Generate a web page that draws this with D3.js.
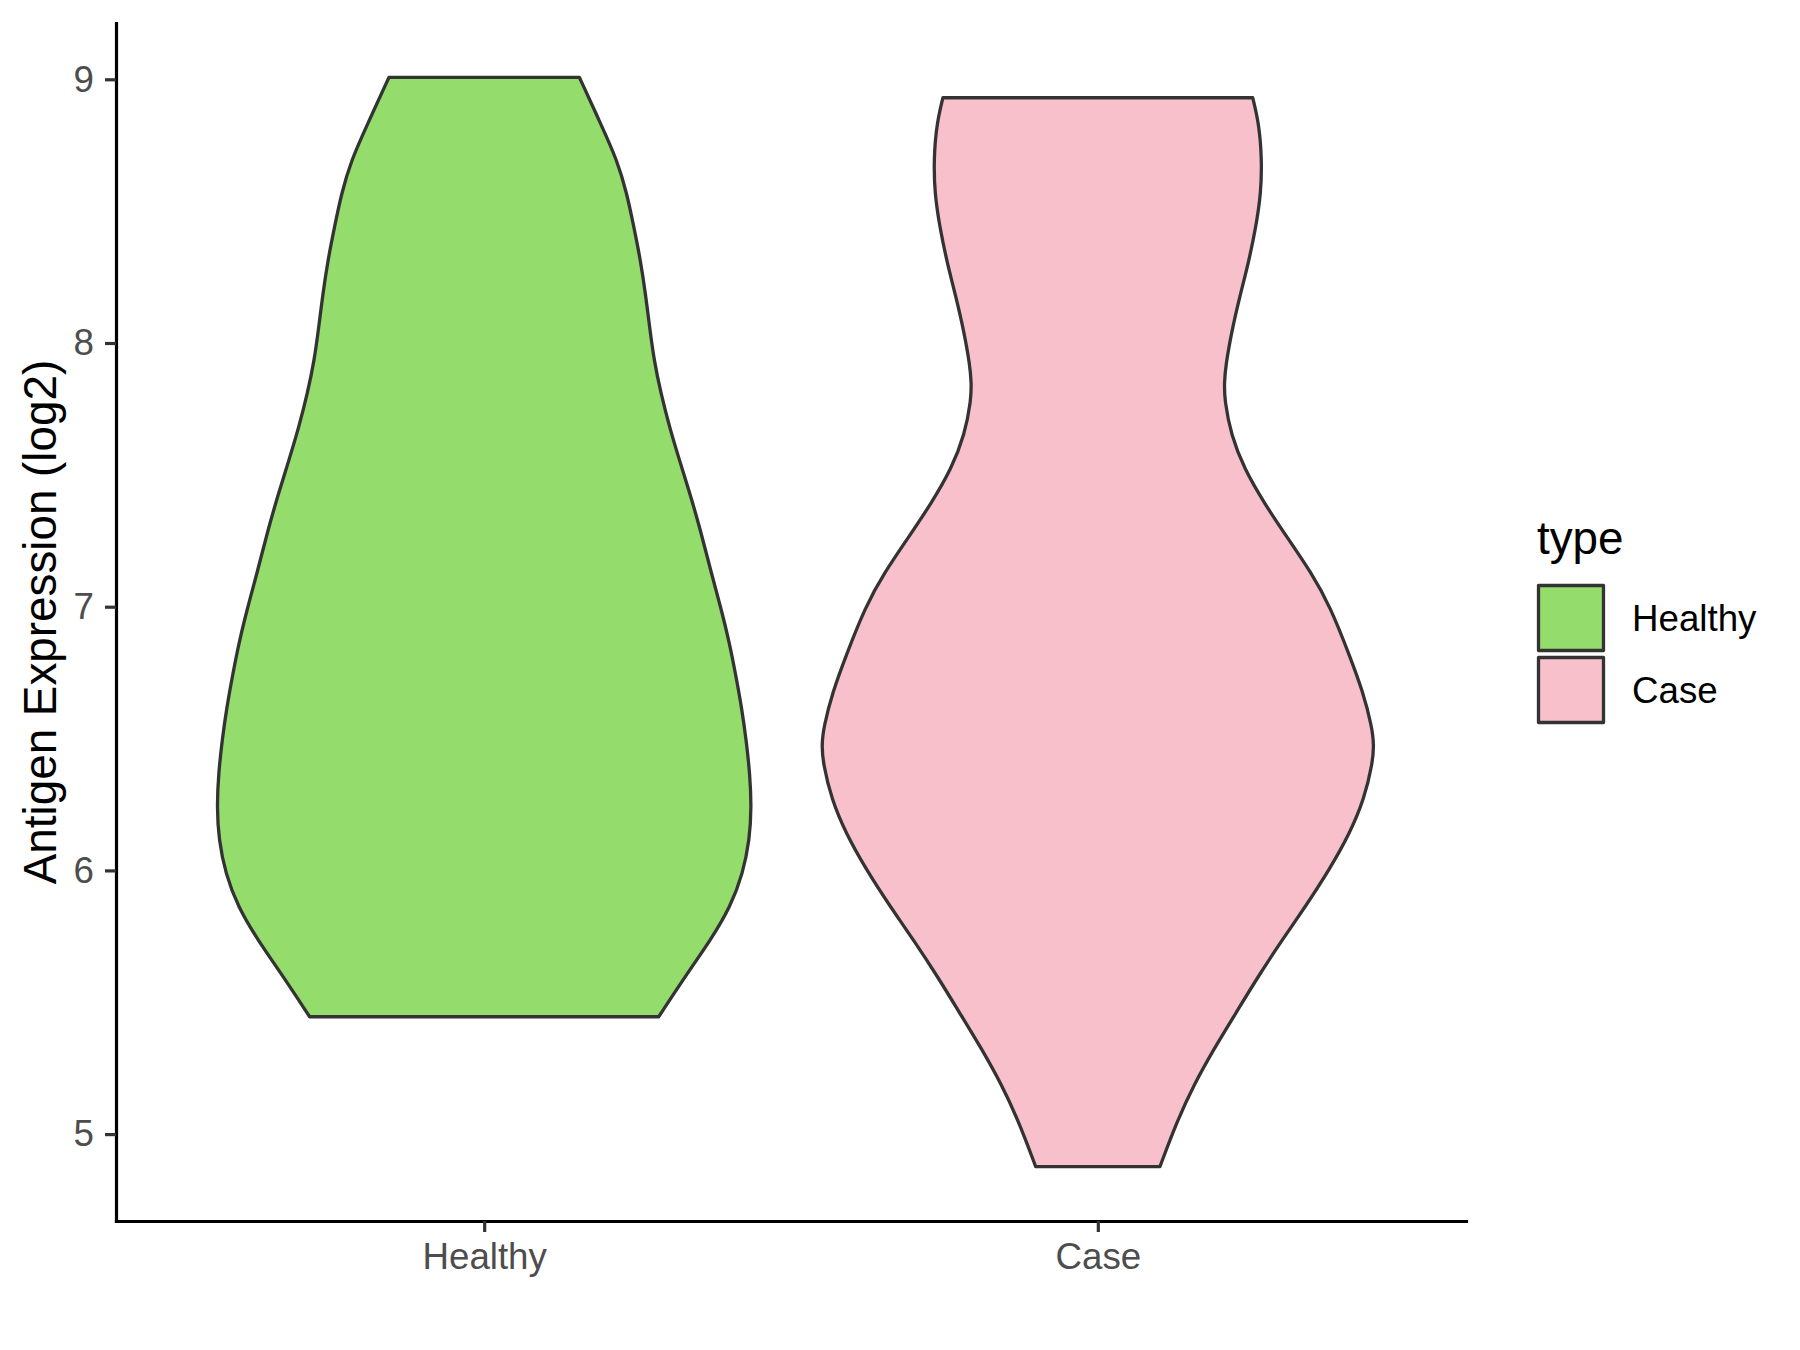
<!DOCTYPE html>
<html>
<head>
<meta charset="utf-8">
<script src="https://cdn.jsdelivr.net/npm/d3@7"></script>
<style>
    body { margin: 0; background: #fff; }
    svg { display: block; font-family: "Liberation Sans", Arial, sans-serif; }
</style>
</head>
<body>
<div id="chart"></div>
<script>
// groups shown on the x axis and in the legend
const categories = ["Healthy", "Case"];
const fillColors = ["#94DC6B", "#F7C0CB"];
const yTickValues = [5, 6, 7, 8, 9];

// violin outlines: expression level (log2) and
// scaled density (1 = widest point of any violin)
const healthyLevels = [9.007, 8.820, 8.694, 8.567, 8.440, 8.314, 8.188, 8.061, 7.935, 7.809,
    7.682, 7.556, 7.429, 7.303, 7.126, 7.000, 6.873, 6.747, 6.620, 6.494,
    6.368, 6.241, 6.115, 5.989, 5.862, 5.736, 5.609, 5.445];
const healthyDensity = [0.345, 0.427, 0.481, 0.517, 0.542, 0.566, 0.584, 0.599, 0.615, 0.640,
    0.671, 0.707, 0.745, 0.780, 0.823, 0.856, 0.886, 0.910, 0.932, 0.949,
    0.962, 0.968, 0.961, 0.937, 0.892, 0.820, 0.735, 0.632];

const caseLevels = [8.930, 8.829, 8.698, 8.567, 8.437, 8.306, 8.176, 8.045, 7.914, 7.849,
    7.784, 7.653, 7.523, 7.392, 7.261, 7.131, 7.000, 6.814, 6.678, 6.543,
    6.475, 6.407, 6.271, 6.137, 6.002, 5.866, 5.730, 5.595, 5.459, 5.324,
    5.189, 5.054, 4.877];
const caseDensity = [0.561, 0.584, 0.594, 0.591, 0.572, 0.546, 0.514, 0.485, 0.463, 0.458,
    0.459, 0.482, 0.530, 0.603, 0.687, 0.772, 0.842, 0.912, 0.960, 0.993,
    1.000, 0.995, 0.965, 0.911, 0.838, 0.754, 0.663, 0.579, 0.500, 0.421,
    0.349, 0.289, 0.225];

const violins = [
    { type: "Healthy", levels: healthyLevels, density: healthyDensity },
    { type: "Case", levels: caseLevels, density: caseDensity }
];

const W = 1800, H = 1350;
const margin = { top: 23, right: 334, bottom: 129, left: 116 };
const width = W - margin.left - margin.right;
const height = H - margin.top - margin.bottom;

const svg = d3.select("#chart")
    .append("svg")
    .attr("width", W)
    .attr("height", H);

svg.append("rect")
    .attr("width", W)
    .attr("height", H)
    .attr("fill", "#fff");

const g = svg.append("g")
    .attr("transform", `translate(${margin.left}, ${margin.top})`);

// ggplot style 5% expansion of the continuous scale
const allLevels = healthyLevels.concat(caseLevels);
const yMin = d3.min(allLevels), yMax = d3.max(allLevels);
const pad = (yMax - yMin) * 0.05;

const yScale = d3.scaleLinear()
    .domain([yMin - pad, yMax + pad])
    .range([height, 0]);

const xScale = d3.scalePoint()
    .domain(categories)
    .range([0, width])
    .padding(0.6);

const colorScale = d3.scaleOrdinal()
    .domain(categories)
    .range(fillColors);

const halfWidth = xScale.step() * 0.45;

// violins
violins.forEach(v => {
    const cx = xScale(v.type);
    const pts = v.levels.map((lv, i) => ({ level: lv, dens: v.density[i] }));
    const area = d3.area()
        .y(d => yScale(d.level))
        .x0(d => cx - d.dens * halfWidth)
        .x1(d => cx + d.dens * halfWidth)
        .curve(d3.curveBasis);

    g.append("path")
        .datum(pts)
        .attr("class", "violin")
        .attr("d", area)
        .attr("fill", colorScale(v.type))
        .attr("stroke", "#333333")
        .attr("stroke-width", 3.3)
        .attr("stroke-linejoin", "round");
});

// axes
const yAxis = d3.axisLeft(yScale)
    .tickValues(yTickValues)
    .tickSize(11)
    .tickSizeOuter(0)
    .tickPadding(11)
    .tickFormat(d3.format("d"));

const xAxis = d3.axisBottom(xScale)
    .tickSize(11)
    .tickSizeOuter(0)
    .tickPadding(11);

const yAxisGroup = g.append("g")
    .attr("class", "y-axis axis")
    .call(yAxis);

const xAxisGroup = g.append("g")
    .attr("class", "x-axis axis")
    .attr("transform", `translate(0, ${height})`)
    .call(xAxis);

[yAxisGroup, xAxisGroup].forEach(ax => {
    ax.select(".domain")
        .attr("stroke", "#000")
        .attr("stroke-width", 3.2)
        .attr("stroke-linecap", "square");
    ax.selectAll(".tick line")
        .attr("stroke", "#333333")
        .attr("stroke-width", 3.2);
    ax.selectAll(".tick text")
        .attr("fill", "#4D4D4D")
        .style("font-size", "36.7px")
        .style("font-family", "'Liberation Sans', Arial, sans-serif");
});

// y axis title
svg.append("text")
    .attr("transform", `translate(56, ${margin.top + height / 2}) rotate(-90)`)
    .attr("text-anchor", "middle")
    .attr("fill", "#000")
    .style("font-size", "45.8px")
    .text("Antigen Expression (log2)");

// legend
const legend = svg.append("g")
    .attr("class", "legend")
    .attr("transform", "translate(1537, 582)");

legend.append("text")
    .attr("x", 0)
    .attr("y", -28)
    .attr("fill", "#000")
    .style("font-size", "45.8px")
    .text("type");

const keySize = 72;
const keys = legend.selectAll(".key")
    .data(categories)
    .enter()
    .append("g")
    .attr("class", "key")
    .attr("transform", (d, i) => `translate(0, ${i * keySize})`);

keys.append("rect")
    .attr("x", 1.5)
    .attr("y", 3.5)
    .attr("width", 65)
    .attr("height", 65)
    .attr("fill", d => colorScale(d))
    .attr("stroke", "#333333")
    .attr("stroke-width", 3.3)
    .attr("stroke-linejoin", "round");

keys.append("text")
    .attr("x", 95)
    .attr("y", keySize / 2)
    .attr("dy", "0.35em")
    .attr("fill", "#000")
    .style("font-size", "36.7px")
    .text(d => d);
</script>
</body>
</html>
